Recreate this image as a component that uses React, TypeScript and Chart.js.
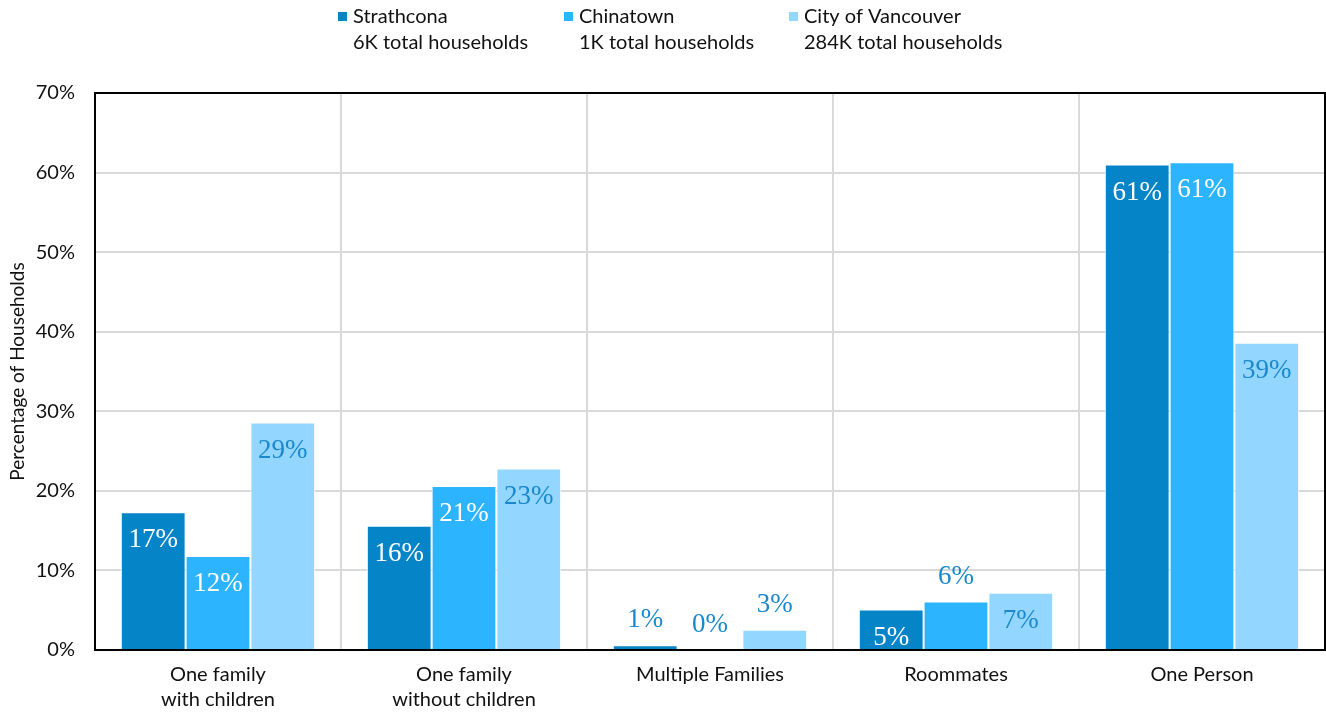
import React, { useEffect, useRef } from 'react';
import { Chart, registerables } from 'chart.js';

Chart.register(...registerables);

const categories: (string | string[])[] = [
  ['One family', 'with children'],
  ['One family', 'without children'],
  'Multiple Families',
  'Roommates',
  'One Person',
];
const strathcona = [17.3, 15.6, 0.6, 5.1, 61.0];
const chinatown = [11.8, 20.6, 0, 6.1, 61.3];
const vancouver = [28.6, 22.8, 2.55, 7.2, 38.6];
const seriesNames = ['Strathcona', 'Chinatown', 'City of Vancouver'];
const seriesTotals = ['6K total households', '1K total households', '284K total households'];
// whether each value label sits above its bar (true) or inside the bar end (false)
const labelOutside = [
  [false, false, true, false, false],
  [false, false, true, true, false],
  [false, false, true, false, false],
];
const yMax = 70;
const yStep = 10;
const yTitle = 'Percentage of Households';

const COLORS = ['#0584C7', '#2CB4FF', '#93D6FF'];
const LABEL_BLUE = '#1A88CC';
const SANS = 'Lato, "Open Sans", sans-serif';
const SERIF = '"Liberation Serif", "DejaVu Serif", serif';

const framePlugin = {
  id: 'frame',
  beforeDatasetsDraw(chart: any) {
    const { ctx, chartArea: a } = chart;
    ctx.save();
    ctx.strokeStyle = '#000';
    ctx.lineWidth = 2;
    ctx.strokeRect(a.left, a.top, a.right - a.left, a.bottom - a.top);
    ctx.restore();
  },
};

const legendPlugin = {
  id: 'customLegend',
  afterDraw(chart: any) {
    const { ctx } = chart;
    const xs = [338, 564, 789];
    ctx.save();
    ctx.font = `20px ${SANS}`;
    ctx.textBaseline = 'middle';
    ctx.textAlign = 'left';
    chart.data.datasets.forEach((ds: any, i: number) => {
      ctx.fillStyle = ds.backgroundColor;
      ctx.fillRect(xs[i], 12, 9, 9);
      ctx.fillStyle = '#111';
      ctx.fillText(seriesNames[i], xs[i] + 15, 17);
      ctx.fillText(seriesTotals[i], xs[i] + 15, 43);
    });
    ctx.restore();
  },
};

const valueLabelPlugin = {
  id: 'valueLabels',
  afterDatasetsDraw(chart: any) {
    const { ctx } = chart;
    ctx.save();
    ctx.font = `27px ${SERIF}`;
    ctx.textAlign = 'center';
    ctx.textBaseline = 'middle';
    chart.data.datasets.forEach((ds: any, di: number) => {
      const meta = chart.getDatasetMeta(di);
      meta.data.forEach((bar: any, i: number) => {
        const v = ds.data[i];
        const txt = Math.round(v) + '%';
        const outside = labelOutside[di][i];
        const y = outside ? bar.y - 25 : bar.y + 28;
        ctx.fillStyle = outside || di === 2 ? LABEL_BLUE : '#FFFFFF';
        ctx.fillText(txt, bar.x, y);
      });
    });
    ctx.restore();
  },
};

export default function App() {
  const ref = useRef<HTMLCanvasElement>(null);
  useEffect(() => {
    document.body.style.margin = '0';
    const chart = new Chart(ref.current!, {
      type: 'bar',
      data: {
        labels: categories,
        datasets: [strathcona, chinatown, vancouver].map((d, i) => ({
          label: seriesNames[i],
          data: d,
          backgroundColor: COLORS[i],
          borderColor: '#FFFFFF',
          borderWidth: 1,
          categoryPercentage: 0.79,
          barPercentage: 1,
        })),
      },
      options: {
        animation: false,
        responsive: true,
        maintainAspectRatio: false,
        layout: { padding: { top: 93, right: 1, left: 0, bottom: 0 } },
        plugins: { legend: { display: false }, tooltip: { enabled: false } },
        scales: {
          x: {
            offset: true,
            grid: { offset: true, color: '#D9D9D9', lineWidth: 2, drawTicks: false },
            border: { display: false },
            ticks: {
              color: '#111',
              font: { family: SANS, size: 20, lineHeight: 1.25 },
              padding: 12,
              maxRotation: 0,
              autoSkip: false,
            },
            afterFit: (s: any) => {
              s.height = 63;
            },
          },
          y: {
            min: 0,
            max: yMax,
            grid: { color: '#D9D9D9', lineWidth: 2, drawTicks: false },
            border: { display: false },
            ticks: {
              stepSize: yStep,
              color: '#111',
              font: { family: SANS, size: 20 },
              padding: 20,
              callback: (v: any) => v + '%',
            },
            title: {
              display: true,
              text: yTitle,
              color: '#111',
              font: { family: SANS, size: 19 },
              padding: { top: 6, bottom: 0 },
            },
            afterFit: (s: any) => {
              s.width = 95;
            },
          },
        },
      },
      plugins: [framePlugin, valueLabelPlugin, legendPlugin],
    });
    return () => chart.destroy();
  }, []);
  return (
    <div style={{ width: 1326, height: 713, position: 'relative' }}>
      <canvas ref={ref} />
    </div>
  );
}
